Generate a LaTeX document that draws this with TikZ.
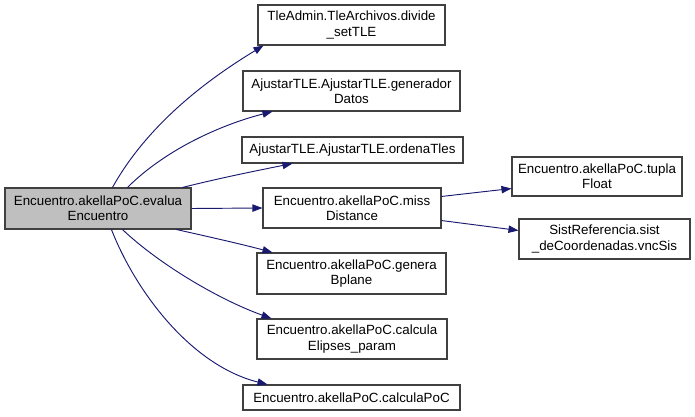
\documentclass[tikz,border=0pt]{standalone}
\usepackage{fontspec}
\setmainfont{Liberation Sans}
\usetikzlibrary{arrows.meta,calc}
\definecolor{edgeblue}{HTML}{191970}
\definecolor{boxline}{HTML}{404040}
\definecolor{mainfill}{HTML}{BFBFBF}
\begin{document}
\begin{tikzpicture}[x=0.75pt,y=-0.75pt,
  fbox/.style={draw=boxline,fill=white,line width=0.8pt,inner sep=0pt,align=center,
    font=\fontsize{10pt}{11.5pt}\selectfont},
  mainbox/.style={fbox,fill=mainfill},
  call/.style={draw=edgeblue,line width=0.7pt,-{Triangle[length=7.5pt,width=5.5pt]}}]
\useasboundingbox (0,0) rectangle (695,417);
\node[mainbox,minimum width=139.5pt,minimum height=30.75pt] (main) at (98,208.5) {Encuentro.akellaPoC.evalua\\Encuentro};
\node[fbox,minimum width=140.25pt,minimum height=30pt] (b1) at (351.5,25) {TleAdmin.TleArchivos.divide\\\_setTLE};
\node[fbox,minimum width=162.75pt,minimum height=30pt] (b2) at (351.5,91) {AjustarTLE.AjustarTLE.generador\\Datos};
\node[fbox,minimum width=165.75pt,minimum height=19.5pt] (b3) at (352.5,150) {AjustarTLE.AjustarTLE.ordenaTles};
\node[fbox,minimum width=133.5pt,minimum height=30pt] (b4) at (352,208) {Encuentro.akellaPoC.miss\\Distance};
\node[fbox,minimum width=141.75pt,minimum height=30.75pt] (b5) at (351.5,273.5) {Encuentro.akellaPoC.genera\\Bplane};
\node[fbox,minimum width=142.5pt,minimum height=30pt] (b6) at (352,339) {Encuentro.akellaPoC.calcula\\Elipses\_param};
\node[fbox,minimum width=162.75pt,minimum height=18.75pt] (b7) at (351.5,397.5) {Encuentro.akellaPoC.calculaPoC};
\node[fbox,minimum width=127.5pt,minimum height=29.25pt] (b8) at (597,176.5) {Encuentro.akellaPoC.tupla\\Float};
\node[fbox,minimum width=128.25pt,minimum height=30pt] (b9) at (604.5,239) {SistReferencia.sist\\\_deCoordenadas.vncSis};

\draw[call] ($(main.north west)+(108,0)$) .. controls (150,120) and (215,75) .. ($(b1.south west)+(6,0)$);
\draw[call] ($(main.north west)+(123,0)$) .. controls (165,150) and (220,125) .. ($(b2.south west)+(30,0)$);
\draw[call] ($(main.north west)+(178,0)$) .. controls (220,178) and (260,170) .. ($(b3.south west)+(51,0)$);
\draw[call] (main.east) -- (b4.west);
\draw[call] ($(main.south west)+(172,0)$) .. controls (210,237) and (245,245) .. ($(b5.north west)+(16,0)$);
\draw[call] ($(main.south west)+(118,0)$) .. controls (160,265) and (220,300) .. ($(b6.north west)+(15,0)$);
\draw[call] ($(main.south west)+(107,0)$) .. controls (135,290) and (190,365) .. ($(b7.north west)+(25,0)$);
\draw[call] ($(b4.north east)+(0,9)$) -- ($(b8.south west)+(0,-8)$);
\draw[call] ($(b4.south east)+(0,-8)$) -- ($(b9.north west)+(0,12)$);
\end{tikzpicture}
\end{document}
